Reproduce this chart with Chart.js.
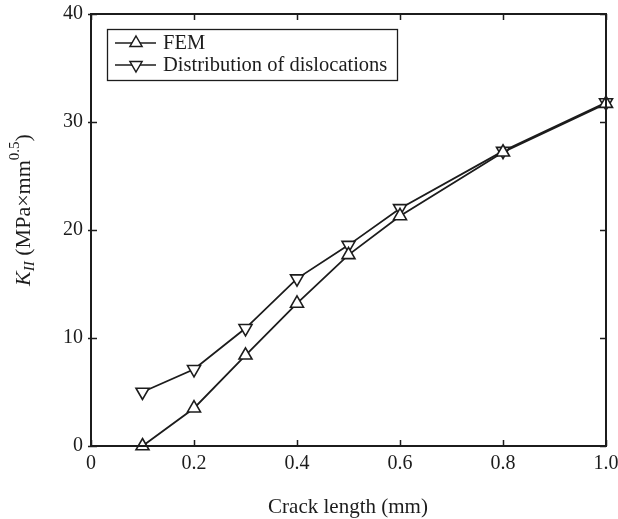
<!DOCTYPE html>
<html>
<head>
<meta charset="utf-8">
<script src="https://cdn.jsdelivr.net/npm/chart.js"></script>
<style>
  html, body { margin: 0; padding: 0; background: #fff; }
  canvas { display: block; }
</style>
</head>
<body>
<canvas id="myChart" width="618" height="519"></canvas>
<script>
// crack length (mm) and K_II values
const crackLength = [0.1, 0.2, 0.3, 0.4, 0.5, 0.6, 0.8, 1.0];
const femK = [0, 3.5, 8.4, 13.2, 17.7, 21.3, 27.2, 31.7];
const dislocK = [5.0, 7.1, 10.9, 15.5, 18.6, 22.0, 27.3, 31.8];
const seriesNames = ['FEM', 'Distribution of dislocations'];
const xTicks = [0, 0.2, 0.4, 0.6, 0.8, 1.0];
const yTicks = [0, 10, 20, 30, 40];

const ink = '#1c1c1c';
const serif = '"Liberation Serif", "Times New Roman", serif';

function toPoints(ys) {
    return crackLength.map((x, i) => ({ x: x, y: ys[i] }));
}

function triangle(ctx, x, y, r, down) {
    const s = down ? -1 : 1;
    ctx.beginPath();
    ctx.moveTo(x, y - s * r);
    ctx.lineTo(x + r * 0.866, y + s * r * 0.5);
    ctx.lineTo(x - r * 0.866, y + s * r * 0.5);
    ctx.closePath();
    ctx.fillStyle = '#fff';
    ctx.fill();
    ctx.stroke();
}

// frame, inward ticks, axis titles and legend
const decor = {
    id: 'decor',
    afterDraw(chart) {
        const ctx = chart.ctx;
        const a = chart.chartArea;
        const xs = chart.scales.x, ys = chart.scales.y;
        ctx.save();
        ctx.strokeStyle = ink;
        ctx.lineWidth = 2;
        ctx.strokeRect(a.left, a.top, a.right - a.left, a.bottom - a.top);

        ctx.lineWidth = 1.5;
        ctx.beginPath();
        xTicks.forEach(v => {
            const px = Math.round(xs.getPixelForValue(v)) + 0.5;
            ctx.moveTo(px, a.bottom); ctx.lineTo(px, a.bottom - 6);
            ctx.moveTo(px, a.top); ctx.lineTo(px, a.top + 6);
        });
        yTicks.forEach(v => {
            const py = Math.round(ys.getPixelForValue(v)) + 0.5;
            ctx.moveTo(a.left - 3, py); ctx.lineTo(a.left + 6, py);
            ctx.moveTo(a.right, py); ctx.lineTo(a.right - 6, py);
        });
        ctx.stroke();

        // x title
        ctx.fillStyle = ink;
        ctx.font = '21px ' + serif;
        ctx.textAlign = 'center';
        ctx.textBaseline = 'middle';
        ctx.fillText('Crack length (mm)', 348, 507);

        // y title with subscript and superscript
        const parts = [
            { t: 'K', f: 'italic 22px ' + serif, dy: 0 },
            { t: 'II', f: 'italic 15px ' + serif, dy: 6 },
            { t: ' (MPa×mm', f: '22px ' + serif, dy: 0 },
            { t: '0.5', f: '15px ' + serif, dy: -9 },
            { t: ')', f: '22px ' + serif, dy: 0 }
        ];
        let total = 0;
        parts.forEach(p => { ctx.font = p.f; p.w = ctx.measureText(p.t).width; total += p.w; });
        ctx.translate(24, 210);
        ctx.rotate(-Math.PI / 2);
        ctx.textAlign = 'left';
        let cx = -total / 2;
        parts.forEach(p => {
            ctx.font = p.f;
            ctx.fillText(p.t, cx, p.dy);
            cx += p.w;
        });
        ctx.setTransform(1, 0, 0, 1, 0, 0);

        // legend
        ctx.lineWidth = 1.3;
        ctx.strokeRect(107.5, 29.5, 290, 51);
        chart.data.datasets.forEach((ds, i) => {
            const y = 43 + i * 22;
            ctx.lineWidth = 1.5;
            ctx.beginPath();
            ctx.moveTo(115, y); ctx.lineTo(156, y);
            ctx.stroke();
            triangle(ctx, 136, y, 7, ds.pointRotation === 180);
            ctx.fillStyle = ink;
            ctx.font = '20.5px ' + serif;
            ctx.textBaseline = 'middle';
            ctx.fillText(ds.label, 163, y + 1);
        });
        ctx.restore();
    }
};

const ctx = document.getElementById('myChart').getContext('2d');
const myChart = new Chart(ctx, {
    type: 'scatter',
    data: {
        datasets: [{
            label: seriesNames[0],
            data: toPoints(femK),
            showLine: true,
            clip: false,
            borderColor: ink,
            borderWidth: 1.8,
            pointStyle: 'triangle',
            pointRadius: 7.5,
            pointBackgroundColor: '#fff',
            pointBorderColor: ink,
            pointBorderWidth: 1.6
        }, {
            label: seriesNames[1],
            data: toPoints(dislocK),
            showLine: true,
            clip: false,
            borderColor: ink,
            borderWidth: 1.8,
            pointStyle: 'triangle',
            pointRotation: 180,
            pointRadius: 7.5,
            pointBackgroundColor: '#fff',
            pointBorderColor: ink,
            pointBorderWidth: 1.6
        }]
    },
    options: {
        responsive: false,
        animation: false,
        devicePixelRatio: 1,
        layout: { padding: { top: 14, right: 12, left: 0, bottom: 0 } },
        plugins: { legend: { display: false }, tooltip: { enabled: false } },
        scales: {
            x: {
                type: 'linear',
                min: 0,
                max: 1,
                grid: { display: false, drawTicks: false },
                border: { display: false },
                afterBuildTicks: s => { s.ticks = xTicks.map(v => ({ value: v })); },
                afterFit: s => { s.height = 73; s.paddingLeft = 0; s.paddingRight = 0; },
                ticks: {
                    padding: 6,
                    color: ink,
                    font: { family: serif, size: 20 },
                    callback: v => v === 0 ? '0' : v.toFixed(1)
                }
            },
            y: {
                min: 0,
                max: 40,
                grid: { display: false, drawTicks: false },
                border: { display: false },
                afterBuildTicks: s => { s.ticks = yTicks.map(v => ({ value: v })); },
                afterFit: s => { s.width = 91; s.paddingTop = 0; s.paddingBottom = 0; },
                ticks: {
                    padding: 8,
                    color: ink,
                    font: { family: serif, size: 20 }
                }
            }
        }
    },
    plugins: [decor]
});
</script>
</body>
</html>
